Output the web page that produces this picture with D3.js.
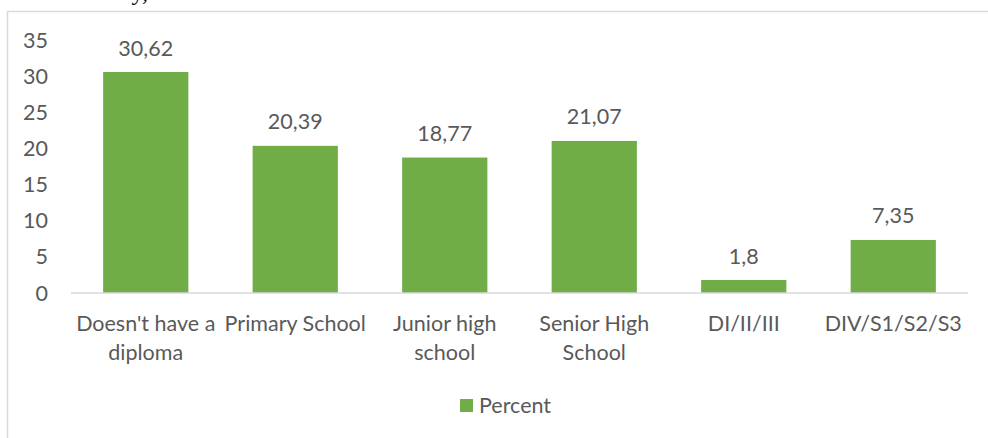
<!DOCTYPE html>
<html>
<head>
<meta charset="utf-8">
<script src="https://cdn.jsdelivr.net/npm/d3@7"></script>
<style>
  html, body { margin: 0; padding: 0; background: #fff; }
  svg { display: block; }
  text { font-family: Lato, "Open Sans", sans-serif; fill: #595959; }
</style>
</head>
<body>
<svg id="chart" width="988" height="438"></svg>
<script>
// chart data
var categories = ["Doesn't have a diploma", "Primary School", "Junior high school", "Senior High School", "DI/II/III", "DIV/S1/S2/S3"];
var catLines = [["Doesn't have a", "diploma"], ["Primary School"], ["Junior high", "school"], ["Senior High", "School"], ["DI/II/III"], ["DIV/S1/S2/S3"]];
var percent = [30.62, 20.39, 18.77, 21.07, 1.8, 7.35];
var valueLabels = ["30,62", "20,39", "18,77", "21,07", "1,8", "7,35"];
var yTicks = [0, 5, 10, 15, 20, 25, 30, 35];
var seriesName = "Percent";

var svg = d3.select("#chart");
var green = "#70ad47";
var fs = "21.5px";

// outer frame (cut by the page edges on the right/bottom)
svg.append("rect")
  .attr("x", 7.5).attr("y", 11.5)
  .attr("width", 1000).attr("height", 500)
  .attr("fill", "none")
  .attr("stroke", "#d9d9d9")
  .attr("stroke-width", 1.5);

// bit of caption text cut off at the top
svg.append("text")
  .attr("x", 148).attr("y", 0)
  .attr("text-anchor", "end")
  .style("font-family", "'Liberation Serif', serif")
  .style("font-size", "24px")
  .style("fill", "#000")
  .text("y,");

var x = d3.scaleBand()
  .domain(categories)
  .range([71, 968])
  .paddingInner(0.43)
  .paddingOuter(0.215);

var y = d3.scaleLinear()
  .domain([0, 35])
  .range([293, 40.4]);

// y axis labels (no line)
svg.append("g").selectAll("text")
  .data(yTicks)
  .join("text")
  .attr("x", 48)
  .attr("y", function(d) { return y(d); })
  .attr("dy", "0.35em")
  .attr("text-anchor", "end")
  .style("font-size", fs)
  .text(function(d) { return d; });

// bars
svg.append("g").selectAll("rect")
  .data(percent)
  .join("rect")
  .attr("x", function(d, i) { return x(categories[i]); })
  .attr("y", function(d) { return y(d); })
  .attr("width", x.bandwidth())
  .attr("height", function(d) { return y(0) - y(d); })
  .attr("fill", green);

// baseline
svg.append("line")
  .attr("x1", 71).attr("x2", 968)
  .attr("y1", y(0)).attr("y2", y(0))
  .attr("stroke", "#d9d9d9")
  .attr("stroke-width", 1.5);

// value labels
svg.append("g").selectAll("text")
  .data(percent)
  .join("text")
  .attr("x", function(d, i) { return x(categories[i]) + x.bandwidth() / 2; })
  .attr("y", function(d) { return y(d) - 24; })
  .attr("dy", "0.35em")
  .attr("text-anchor", "middle")
  .style("font-size", fs)
  .text(function(d, i) { return valueLabels[i]; });

// category labels, wrapped
var catG = svg.append("g").selectAll("text")
  .data(categories)
  .join("text")
  .attr("text-anchor", "middle")
  .style("font-size", fs);
catG.each(function(d, i) {
  var t = d3.select(this);
  var cx = x(d) + x.bandwidth() / 2;
  catLines[i].forEach(function(line, j) {
    t.append("tspan")
      .attr("x", cx)
      .attr("y", 323 + j * 29)
      .attr("dy", "0.35em")
      .text(line);
  });
});

// legend
var leg = svg.append("g").attr("transform", "translate(460,399)");
leg.append("rect").attr("width", 13).attr("height", 13).attr("fill", green);
leg.append("text")
  .attr("x", 19).attr("y", 6.5)
  .attr("dy", "0.35em")
  .style("font-size", fs)
  .text(seriesName);
</script>
</body>
</html>
